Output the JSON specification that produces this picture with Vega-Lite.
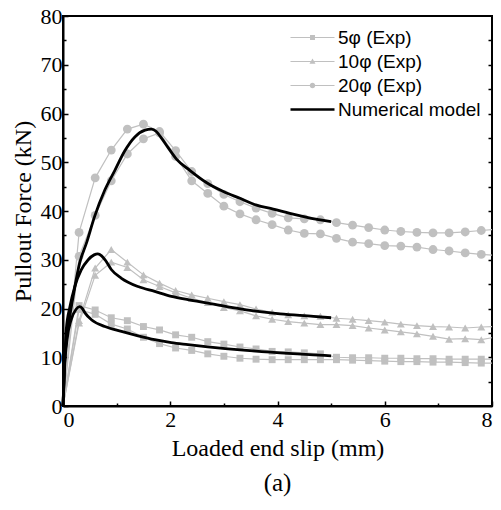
{
  "$schema": "https://vega.github.io/schema/vega-lite/v6.json",
  "width": 429,
  "height": 390,
  "autosize": {"type": "none"},
  "padding": {"left": 63, "top": 16, "right": 9, "bottom": 104},
  "background": "white",
  "config": {
    "view": {"stroke": "black", "strokeWidth": 2},
    "axis": {
      "grid": false,
      "domainColor": "black",
      "domainWidth": 2,
      "tickColor": "black",
      "tickWidth": 1.5,
      "labelFont": "Liberation Serif",
      "labelFontSize": 22,
      "labelColor": "black",
      "titleFont": "Liberation Serif",
      "titleFontSize": 24,
      "titleFontWeight": "normal",
      "titleColor": "black"
    },
    "legend": {
      "labelFont": "Liberation Sans",
      "labelFontSize": 19,
      "labelColor": "black"
    },
    "title": {"font": "Liberation Serif", "fontSize": 25, "fontWeight": "normal", "color": "black"}
  },
  "title": {"text": "(a)", "orient": "bottom", "anchor": "middle", "offset": 11},
  "datasets": {
    "exp": [
      {"series": "5φ (Exp)", "specimen": "A", "x": 0, "y": 0},
      {"series": "5φ (Exp)", "specimen": "A", "x": 0.3, "y": 20.6},
      {"series": "5φ (Exp)", "specimen": "A", "x": 0.6, "y": 19.7},
      {"series": "5φ (Exp)", "specimen": "A", "x": 0.9, "y": 18.1},
      {"series": "5φ (Exp)", "specimen": "A", "x": 1.2, "y": 17.5},
      {"series": "5φ (Exp)", "specimen": "A", "x": 1.5, "y": 16.3},
      {"series": "5φ (Exp)", "specimen": "A", "x": 1.8, "y": 15.6},
      {"series": "5φ (Exp)", "specimen": "A", "x": 2.1, "y": 14.6},
      {"series": "5φ (Exp)", "specimen": "A", "x": 2.4, "y": 14.1},
      {"series": "5φ (Exp)", "specimen": "A", "x": 2.7, "y": 13.2},
      {"series": "5φ (Exp)", "specimen": "A", "x": 3.0, "y": 12.7},
      {"series": "5φ (Exp)", "specimen": "A", "x": 3.3, "y": 12.1},
      {"series": "5φ (Exp)", "specimen": "A", "x": 3.6, "y": 11.7},
      {"series": "5φ (Exp)", "specimen": "A", "x": 3.9, "y": 11.2},
      {"series": "5φ (Exp)", "specimen": "A", "x": 4.2, "y": 11.1},
      {"series": "5φ (Exp)", "specimen": "A", "x": 4.5, "y": 10.9},
      {"series": "5φ (Exp)", "specimen": "A", "x": 4.8, "y": 10.7},
      {"series": "5φ (Exp)", "specimen": "A", "x": 5.1, "y": 10.0},
      {"series": "5φ (Exp)", "specimen": "A", "x": 5.4, "y": 9.9},
      {"series": "5φ (Exp)", "specimen": "A", "x": 5.7, "y": 9.9},
      {"series": "5φ (Exp)", "specimen": "A", "x": 6.0, "y": 9.8},
      {"series": "5φ (Exp)", "specimen": "A", "x": 6.3, "y": 9.8},
      {"series": "5φ (Exp)", "specimen": "A", "x": 6.6, "y": 9.7},
      {"series": "5φ (Exp)", "specimen": "A", "x": 6.9, "y": 9.7},
      {"series": "5φ (Exp)", "specimen": "A", "x": 7.2, "y": 9.6},
      {"series": "5φ (Exp)", "specimen": "A", "x": 7.5, "y": 9.6},
      {"series": "5φ (Exp)", "specimen": "A", "x": 7.8, "y": 9.6},
      {"series": "5φ (Exp)", "specimen": "A", "x": 8.1, "y": 9.6},
      {"series": "5φ (Exp)", "specimen": "B", "x": 0, "y": 0},
      {"series": "5φ (Exp)", "specimen": "B", "x": 0.3, "y": 19.8},
      {"series": "5φ (Exp)", "specimen": "B", "x": 0.6, "y": 18.8},
      {"series": "5φ (Exp)", "specimen": "B", "x": 0.9, "y": 16.8},
      {"series": "5φ (Exp)", "specimen": "B", "x": 1.2, "y": 15.8},
      {"series": "5φ (Exp)", "specimen": "B", "x": 1.5, "y": 14.1},
      {"series": "5φ (Exp)", "specimen": "B", "x": 1.8, "y": 12.8},
      {"series": "5φ (Exp)", "specimen": "B", "x": 2.1, "y": 11.9},
      {"series": "5φ (Exp)", "specimen": "B", "x": 2.4, "y": 11.4},
      {"series": "5φ (Exp)", "specimen": "B", "x": 2.7, "y": 10.7},
      {"series": "5φ (Exp)", "specimen": "B", "x": 3.0, "y": 10.2},
      {"series": "5φ (Exp)", "specimen": "B", "x": 3.3, "y": 9.8},
      {"series": "5φ (Exp)", "specimen": "B", "x": 3.6, "y": 9.6},
      {"series": "5φ (Exp)", "specimen": "B", "x": 3.9, "y": 9.5},
      {"series": "5φ (Exp)", "specimen": "B", "x": 4.2, "y": 9.5},
      {"series": "5φ (Exp)", "specimen": "B", "x": 4.5, "y": 9.5},
      {"series": "5φ (Exp)", "specimen": "B", "x": 4.8, "y": 9.5},
      {"series": "5φ (Exp)", "specimen": "B", "x": 5.1, "y": 9.5},
      {"series": "5φ (Exp)", "specimen": "B", "x": 5.4, "y": 9.4},
      {"series": "5φ (Exp)", "specimen": "B", "x": 5.7, "y": 9.3},
      {"series": "5φ (Exp)", "specimen": "B", "x": 6.0, "y": 9.2},
      {"series": "5φ (Exp)", "specimen": "B", "x": 6.3, "y": 9.1},
      {"series": "5φ (Exp)", "specimen": "B", "x": 6.6, "y": 9.1},
      {"series": "5φ (Exp)", "specimen": "B", "x": 6.9, "y": 9.0},
      {"series": "5φ (Exp)", "specimen": "B", "x": 7.2, "y": 9.0},
      {"series": "5φ (Exp)", "specimen": "B", "x": 7.5, "y": 8.9},
      {"series": "5φ (Exp)", "specimen": "B", "x": 7.8, "y": 8.8},
      {"series": "5φ (Exp)", "specimen": "B", "x": 8.1, "y": 8.8},
      {"series": "10φ (Exp)", "specimen": "A", "x": 0, "y": 0},
      {"series": "10φ (Exp)", "specimen": "A", "x": 0.3, "y": 17.5},
      {"series": "10φ (Exp)", "specimen": "A", "x": 0.6, "y": 28.3},
      {"series": "10φ (Exp)", "specimen": "A", "x": 0.9, "y": 32.1},
      {"series": "10φ (Exp)", "specimen": "A", "x": 1.2, "y": 29.5},
      {"series": "10φ (Exp)", "specimen": "A", "x": 1.5, "y": 26.9},
      {"series": "10φ (Exp)", "specimen": "A", "x": 1.8, "y": 25.2},
      {"series": "10φ (Exp)", "specimen": "A", "x": 2.1, "y": 23.7},
      {"series": "10φ (Exp)", "specimen": "A", "x": 2.4, "y": 22.8},
      {"series": "10φ (Exp)", "specimen": "A", "x": 2.7, "y": 22.1},
      {"series": "10φ (Exp)", "specimen": "A", "x": 3.0, "y": 21.4},
      {"series": "10φ (Exp)", "specimen": "A", "x": 3.3, "y": 20.8},
      {"series": "10φ (Exp)", "specimen": "A", "x": 3.6, "y": 19.9},
      {"series": "10φ (Exp)", "specimen": "A", "x": 3.9, "y": 19.2},
      {"series": "10φ (Exp)", "specimen": "A", "x": 4.2, "y": 18.7},
      {"series": "10φ (Exp)", "specimen": "A", "x": 4.5, "y": 18.5},
      {"series": "10φ (Exp)", "specimen": "A", "x": 4.8, "y": 18.4},
      {"series": "10φ (Exp)", "specimen": "A", "x": 5.1, "y": 18.0},
      {"series": "10φ (Exp)", "specimen": "A", "x": 5.4, "y": 17.8},
      {"series": "10φ (Exp)", "specimen": "A", "x": 5.7, "y": 17.5},
      {"series": "10φ (Exp)", "specimen": "A", "x": 6.0, "y": 17.2},
      {"series": "10φ (Exp)", "specimen": "A", "x": 6.3, "y": 16.8},
      {"series": "10φ (Exp)", "specimen": "A", "x": 6.6, "y": 16.5},
      {"series": "10φ (Exp)", "specimen": "A", "x": 6.9, "y": 16.3},
      {"series": "10φ (Exp)", "specimen": "A", "x": 7.2, "y": 16.2},
      {"series": "10φ (Exp)", "specimen": "A", "x": 7.5, "y": 16.0},
      {"series": "10φ (Exp)", "specimen": "A", "x": 7.8, "y": 16.2},
      {"series": "10φ (Exp)", "specimen": "A", "x": 8.1, "y": 16.3},
      {"series": "10φ (Exp)", "specimen": "B", "x": 0, "y": 0},
      {"series": "10φ (Exp)", "specimen": "B", "x": 0.3, "y": 17.0},
      {"series": "10φ (Exp)", "specimen": "B", "x": 0.6, "y": 26.8},
      {"series": "10φ (Exp)", "specimen": "B", "x": 0.9, "y": 29.5},
      {"series": "10φ (Exp)", "specimen": "B", "x": 1.2, "y": 28.4},
      {"series": "10φ (Exp)", "specimen": "B", "x": 1.5, "y": 25.9},
      {"series": "10φ (Exp)", "specimen": "B", "x": 1.8, "y": 24.5},
      {"series": "10φ (Exp)", "specimen": "B", "x": 2.1, "y": 23.2},
      {"series": "10φ (Exp)", "specimen": "B", "x": 2.4, "y": 22.1},
      {"series": "10φ (Exp)", "specimen": "B", "x": 2.7, "y": 21.2},
      {"series": "10φ (Exp)", "specimen": "B", "x": 3.0, "y": 20.2},
      {"series": "10φ (Exp)", "specimen": "B", "x": 3.3, "y": 19.5},
      {"series": "10φ (Exp)", "specimen": "B", "x": 3.6, "y": 18.5},
      {"series": "10φ (Exp)", "specimen": "B", "x": 3.9, "y": 17.8},
      {"series": "10φ (Exp)", "specimen": "B", "x": 4.2, "y": 17.3},
      {"series": "10φ (Exp)", "specimen": "B", "x": 4.5, "y": 17.0},
      {"series": "10φ (Exp)", "specimen": "B", "x": 4.8, "y": 16.7},
      {"series": "10φ (Exp)", "specimen": "B", "x": 5.1, "y": 16.7},
      {"series": "10φ (Exp)", "specimen": "B", "x": 5.4, "y": 16.5},
      {"series": "10φ (Exp)", "specimen": "B", "x": 5.7, "y": 16.0},
      {"series": "10φ (Exp)", "specimen": "B", "x": 6.0, "y": 15.6},
      {"series": "10φ (Exp)", "specimen": "B", "x": 6.3, "y": 15.2},
      {"series": "10φ (Exp)", "specimen": "B", "x": 6.6, "y": 14.8},
      {"series": "10φ (Exp)", "specimen": "B", "x": 6.9, "y": 14.3},
      {"series": "10φ (Exp)", "specimen": "B", "x": 7.2, "y": 13.7},
      {"series": "10φ (Exp)", "specimen": "B", "x": 7.5, "y": 13.8},
      {"series": "10φ (Exp)", "specimen": "B", "x": 7.8, "y": 13.6},
      {"series": "10φ (Exp)", "specimen": "B", "x": 8.1, "y": 14.2},
      {"series": "20φ (Exp)", "specimen": "A", "x": 0, "y": 0},
      {"series": "20φ (Exp)", "specimen": "A", "x": 0.3, "y": 35.6},
      {"series": "20φ (Exp)", "specimen": "A", "x": 0.6, "y": 46.8},
      {"series": "20φ (Exp)", "specimen": "A", "x": 0.9, "y": 52.5},
      {"series": "20φ (Exp)", "specimen": "A", "x": 1.2, "y": 56.8},
      {"series": "20φ (Exp)", "specimen": "A", "x": 1.5, "y": 57.8},
      {"series": "20φ (Exp)", "specimen": "A", "x": 1.8, "y": 56.3},
      {"series": "20φ (Exp)", "specimen": "A", "x": 2.1, "y": 52.4},
      {"series": "20φ (Exp)", "specimen": "A", "x": 2.4, "y": 48.1},
      {"series": "20φ (Exp)", "specimen": "A", "x": 2.7, "y": 45.6},
      {"series": "20φ (Exp)", "specimen": "A", "x": 3.0, "y": 43.4},
      {"series": "20φ (Exp)", "specimen": "A", "x": 3.3, "y": 41.9},
      {"series": "20φ (Exp)", "specimen": "A", "x": 3.6, "y": 40.6},
      {"series": "20φ (Exp)", "specimen": "A", "x": 3.9, "y": 39.5},
      {"series": "20φ (Exp)", "specimen": "A", "x": 4.2, "y": 38.6},
      {"series": "20φ (Exp)", "specimen": "A", "x": 4.5, "y": 38.4},
      {"series": "20φ (Exp)", "specimen": "A", "x": 4.8, "y": 38.2},
      {"series": "20φ (Exp)", "specimen": "A", "x": 5.1, "y": 37.6},
      {"series": "20φ (Exp)", "specimen": "A", "x": 5.4, "y": 37.1},
      {"series": "20φ (Exp)", "specimen": "A", "x": 5.7, "y": 36.6},
      {"series": "20φ (Exp)", "specimen": "A", "x": 6.0, "y": 36.1},
      {"series": "20φ (Exp)", "specimen": "A", "x": 6.3, "y": 35.8},
      {"series": "20φ (Exp)", "specimen": "A", "x": 6.6, "y": 35.6},
      {"series": "20φ (Exp)", "specimen": "A", "x": 6.9, "y": 35.5},
      {"series": "20φ (Exp)", "specimen": "A", "x": 7.2, "y": 35.5},
      {"series": "20φ (Exp)", "specimen": "A", "x": 7.5, "y": 35.7},
      {"series": "20φ (Exp)", "specimen": "A", "x": 7.8, "y": 36.0},
      {"series": "20φ (Exp)", "specimen": "A", "x": 8.1, "y": 36.3},
      {"series": "20φ (Exp)", "specimen": "B", "x": 0, "y": 0},
      {"series": "20φ (Exp)", "specimen": "B", "x": 0.3, "y": 30.7},
      {"series": "20φ (Exp)", "specimen": "B", "x": 0.6, "y": 39.1},
      {"series": "20φ (Exp)", "specimen": "B", "x": 0.9, "y": 46.2},
      {"series": "20φ (Exp)", "specimen": "B", "x": 1.2, "y": 51.7},
      {"series": "20φ (Exp)", "specimen": "B", "x": 1.5, "y": 54.8},
      {"series": "20φ (Exp)", "specimen": "B", "x": 1.8, "y": 56.0},
      {"series": "20φ (Exp)", "specimen": "B", "x": 2.1, "y": 51.2},
      {"series": "20φ (Exp)", "specimen": "B", "x": 2.4, "y": 46.2},
      {"series": "20φ (Exp)", "specimen": "B", "x": 2.7, "y": 43.6},
      {"series": "20φ (Exp)", "specimen": "B", "x": 3.0, "y": 41.0},
      {"series": "20φ (Exp)", "specimen": "B", "x": 3.3, "y": 39.4},
      {"series": "20φ (Exp)", "specimen": "B", "x": 3.6, "y": 38.2},
      {"series": "20φ (Exp)", "specimen": "B", "x": 3.9, "y": 37.2},
      {"series": "20φ (Exp)", "specimen": "B", "x": 4.2, "y": 36.1},
      {"series": "20φ (Exp)", "specimen": "B", "x": 4.5, "y": 35.4},
      {"series": "20φ (Exp)", "specimen": "B", "x": 4.8, "y": 35.3},
      {"series": "20φ (Exp)", "specimen": "B", "x": 5.1, "y": 34.4},
      {"series": "20φ (Exp)", "specimen": "B", "x": 5.4, "y": 33.6},
      {"series": "20φ (Exp)", "specimen": "B", "x": 5.7, "y": 33.3},
      {"series": "20φ (Exp)", "specimen": "B", "x": 6.0, "y": 32.9},
      {"series": "20φ (Exp)", "specimen": "B", "x": 6.3, "y": 32.8},
      {"series": "20φ (Exp)", "specimen": "B", "x": 6.6, "y": 32.6},
      {"series": "20φ (Exp)", "specimen": "B", "x": 6.9, "y": 32.1},
      {"series": "20φ (Exp)", "specimen": "B", "x": 7.2, "y": 31.8},
      {"series": "20φ (Exp)", "specimen": "B", "x": 7.5, "y": 31.4},
      {"series": "20φ (Exp)", "specimen": "B", "x": 7.8, "y": 31.1},
      {"series": "20φ (Exp)", "specimen": "B", "x": 8.1, "y": 30.9}
    ],
    "num": [
      {"curve": "5φ", "x": 0, "y": 0},
      {"curve": "5φ", "x": 0.03, "y": 8},
      {"curve": "5φ", "x": 0.08, "y": 14},
      {"curve": "5φ", "x": 0.15, "y": 17.6},
      {"curve": "5φ", "x": 0.24, "y": 19.8},
      {"curve": "5φ", "x": 0.31, "y": 20.4},
      {"curve": "5φ", "x": 0.36, "y": 20.0},
      {"curve": "5φ", "x": 0.41, "y": 19.1},
      {"curve": "5φ", "x": 0.53, "y": 17.7},
      {"curve": "5φ", "x": 0.78, "y": 16.3},
      {"curve": "5φ", "x": 1.09, "y": 15.3},
      {"curve": "5φ", "x": 1.4, "y": 14.4},
      {"curve": "5φ", "x": 1.71, "y": 13.6},
      {"curve": "5φ", "x": 2.02, "y": 13.0},
      {"curve": "5φ", "x": 2.33, "y": 12.6},
      {"curve": "5φ", "x": 2.7, "y": 12.15},
      {"curve": "5φ", "x": 3.42, "y": 11.4},
      {"curve": "5φ", "x": 4.05, "y": 10.9},
      {"curve": "5φ", "x": 4.67, "y": 10.5},
      {"curve": "5φ", "x": 5.0, "y": 10.3},
      {"curve": "10φ", "x": 0, "y": 0},
      {"curve": "10φ", "x": 0.06, "y": 15.6},
      {"curve": "10φ", "x": 0.13, "y": 20.4},
      {"curve": "10φ", "x": 0.22, "y": 24.5},
      {"curve": "10φ", "x": 0.34, "y": 27.9},
      {"curve": "10φ", "x": 0.47, "y": 30.0},
      {"curve": "10φ", "x": 0.58, "y": 31.0},
      {"curve": "10φ", "x": 0.65, "y": 31.2},
      {"curve": "10φ", "x": 0.72, "y": 30.8},
      {"curve": "10φ", "x": 0.79, "y": 29.9},
      {"curve": "10φ", "x": 0.9, "y": 28.0},
      {"curve": "10φ", "x": 1.09, "y": 26.2},
      {"curve": "10φ", "x": 1.4, "y": 24.5},
      {"curve": "10φ", "x": 1.71, "y": 23.5},
      {"curve": "10φ", "x": 2.02, "y": 22.5},
      {"curve": "10φ", "x": 2.33, "y": 21.8},
      {"curve": "10φ", "x": 2.7, "y": 21.1},
      {"curve": "10φ", "x": 3.42, "y": 19.7},
      {"curve": "10φ", "x": 4.05, "y": 18.9},
      {"curve": "10φ", "x": 4.67, "y": 18.4},
      {"curve": "10φ", "x": 5.0, "y": 18.1},
      {"curve": "20φ", "x": 0, "y": 0},
      {"curve": "20φ", "x": 0.03, "y": 8.8},
      {"curve": "20φ", "x": 0.09, "y": 15.6},
      {"curve": "20φ", "x": 0.19, "y": 22.5},
      {"curve": "20φ", "x": 0.31, "y": 29.3},
      {"curve": "20φ", "x": 0.44, "y": 33.5},
      {"curve": "20φ", "x": 0.59, "y": 38.9},
      {"curve": "20φ", "x": 0.78, "y": 44.3},
      {"curve": "20φ", "x": 0.97, "y": 48.4},
      {"curve": "20φ", "x": 1.15, "y": 52.3},
      {"curve": "20φ", "x": 1.34, "y": 55.2},
      {"curve": "20φ", "x": 1.53, "y": 56.6},
      {"curve": "20φ", "x": 1.65, "y": 56.8},
      {"curve": "20φ", "x": 1.74, "y": 56.3},
      {"curve": "20φ", "x": 1.84, "y": 54.9},
      {"curve": "20φ", "x": 1.96, "y": 53.0},
      {"curve": "20φ", "x": 2.12, "y": 50.6},
      {"curve": "20φ", "x": 2.37, "y": 48.3},
      {"curve": "20φ", "x": 2.68, "y": 45.8},
      {"curve": "20φ", "x": 2.99, "y": 44.0},
      {"curve": "20φ", "x": 3.3, "y": 42.6},
      {"curve": "20φ", "x": 3.61, "y": 41.2},
      {"curve": "20φ", "x": 3.92, "y": 40.4},
      {"curve": "20φ", "x": 4.23, "y": 39.5},
      {"curve": "20φ", "x": 4.55, "y": 38.7},
      {"curve": "20φ", "x": 5.0, "y": 37.8}
    ],
    "leg": [
      {"series": "5φ (Exp)"},
      {"series": "10φ (Exp)"},
      {"series": "20φ (Exp)"},
      {"series": "Numerical model"}
    ]
  },
  "layer": [
    {
      "data": {"name": "exp"},
      "mark": {"type": "line", "color": "#c0c0c0", "strokeWidth": 1.2, "clip": true},
      "encoding": {
        "x": {"field": "x", "type": "quantitative", "scale": {"domain": [0, 8], "nice": false},
          "axis": {"orient": "bottom", "values": [0, 2, 4, 6, 8], "tickSize": -5, "labelPadding": 8, "title": "Loaded end slip (mm)", "titlePadding": 6, "format": "d"}},
        "y": {"field": "y", "type": "quantitative", "scale": {"domain": [0, 80], "nice": false},
          "axis": {"orient": "left", "values": [0, 10, 20, 30, 40, 50, 60, 70, 80], "tickSize": -5, "labelPadding": 6, "title": "Pullout Force (kN)", "titlePadding": 5, "format": "d"}},
        "detail": [{"field": "series"}, {"field": "specimen"}],
        "order": {"field": "x", "type": "quantitative"}
      }
    },
    {
      "data": {"name": "exp"},
      "transform": [{"filter": "datum.x > 0"}],
      "mark": {"type": "point", "filled": true, "color": "#c0c0c0", "opacity": 1, "clip": true},
      "encoding": {
        "x": {"field": "x", "type": "quantitative",
          "axis": {"orient": "bottom", "values": [1, 3, 5, 7], "tickSize": -3, "labels": false, "domain": false, "title": null}},
        "y": {"field": "y", "type": "quantitative",
          "axis": {"orient": "left", "values": [5, 15, 25, 35, 45, 55, 65, 75], "tickSize": -3, "labels": false, "domain": false, "title": null}},
        "shape": {"field": "series", "type": "nominal",
          "scale": {"domain": ["5φ (Exp)", "10φ (Exp)", "20φ (Exp)"], "range": ["square", "triangle-up", "circle"]},
          "legend": null},
        "size": {"field": "series", "type": "nominal",
          "scale": {"domain": ["5φ (Exp)", "10φ (Exp)", "20φ (Exp)"], "range": [48, 78, 55]},
          "legend": null}
      }
    },
    {
      "data": {"name": "num"},
      "mark": {"type": "line", "color": "black", "strokeWidth": 2.8, "interpolate": "monotone"},
      "encoding": {
        "x": {"field": "x", "type": "quantitative", "axis": null},
        "y": {"field": "y", "type": "quantitative",
          "axis": {"orient": "right", "values": [5, 10, 15, 20, 25, 30, 35, 40, 45, 50, 55, 60, 65, 70, 75], "tickSize": -4, "labels": false, "domain": false, "title": null}},
        "detail": {"field": "curve"}
      }
    },
    {
      "data": {"name": "leg"},
      "transform": [{"filter": "false"}],
      "mark": {"type": "point", "filled": true, "opacity": 1},
      "encoding": {
        "color": {"field": "series", "type": "nominal",
          "scale": {"domain": ["5φ (Exp)", "10φ (Exp)", "20φ (Exp)", "Numerical model"], "range": ["#c0c0c0", "#c0c0c0", "#c0c0c0", "black"]},
          "legend": {"orient": "none", "legendX": 240, "legendY": 12, "title": null, "padding": 0, "symbolSize": 121, "symbolStrokeWidth": 0, "labelOffset": 16, "rowPadding": 4, "symbolOpacity": 1}},
        "shape": {"field": "series", "type": "nominal",
          "scale": {"domain": ["5φ (Exp)", "10φ (Exp)", "20φ (Exp)", "Numerical model"],
            "range": [
              "M-4,-0.09H4V0.09H-4Z M-0.45,-0.45H0.45V0.45H-0.45Z",
              "M-4,-0.09H4V0.09H-4Z M0,-0.55L0.55,0.4H-0.55Z",
              "M-4,-0.09H4V0.09H-4Z M-0.5,0A0.5,0.5 0 1,1 0.5,0A0.5,0.5 0 1,1 -0.5,0Z",
              "M-4,-0.24H4V0.24H-4Z"
            ]},
          "legend": {"orient": "none", "legendX": 240, "legendY": 12, "title": null, "padding": 0, "symbolSize": 121, "symbolStrokeWidth": 0, "labelOffset": 16, "rowPadding": 4, "symbolOpacity": 1}}
      }
    }
  ],
  "resolve": {
    "scale": {"shape": "independent", "color": "independent", "size": "independent"},
    "legend": {"shape": "independent", "color": "independent", "size": "independent"},
    "axis": {"x": "independent", "y": "independent"}
  }
}
